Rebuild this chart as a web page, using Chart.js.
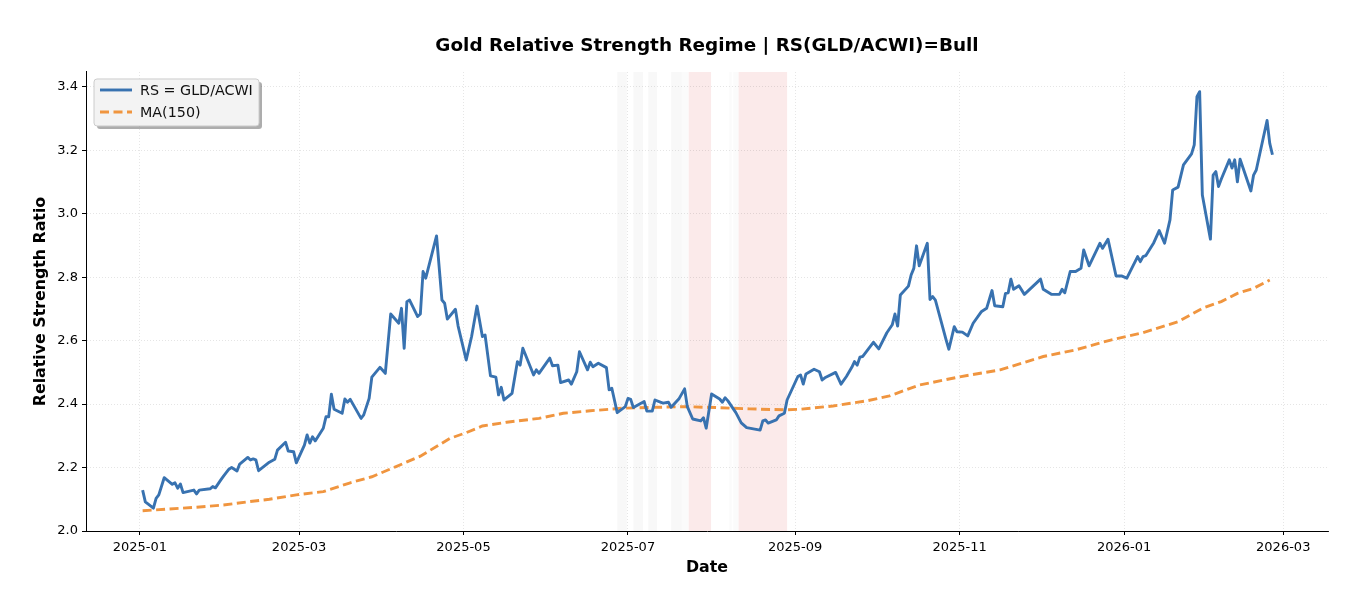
<!DOCTYPE html>
<html>
<head>
<meta charset="utf-8">
<title>Gold Relative Strength Regime</title>
<script src="https://cdn.jsdelivr.net/npm/chart.js@4.4.1/dist/chart.umd.min.js"></script>
<style>
    html, body { margin: 0; padding: 0; background: #ffffff; }
    #wrap { width: 1368px; height: 610px; }
</style>
</head>
<body>
<div id="wrap"><canvas id="rsChart" width="1368" height="610"></canvas></div>
<script>
// All x values are days counted from 2025-01-01
const startDate = '2025-01-01';

// RS = GLD/ACWI, one value per trading day
const rsDays = [
    1, 2, 5, 6, 7, 9, 11, 12, 13, 14,
    15, 16, 20, 21, 22, 26, 27, 28, 30, 31,
    33, 34, 36, 37, 40, 41, 42, 43, 44, 48,
    50, 51, 54, 55, 57, 58, 61, 62, 63, 64,
    65, 68, 69, 70, 71, 72, 75, 76, 77, 78,
    82, 83, 85, 86, 89, 91, 93, 96, 97, 98,
    99, 100, 103, 104, 105, 106, 110, 112, 113, 114,
    117, 118, 121, 123, 125, 127, 128, 130, 132, 133,
    134, 135, 138, 140, 141, 142, 146, 147, 148, 152,
    153, 155, 156, 159, 160, 162, 163, 166, 167, 168,
    170, 173, 174, 175, 177, 180, 181, 182, 183, 187,
    188, 190, 191, 193, 194, 196, 197, 200, 202, 203,
    205, 208, 209, 210, 212, 215, 216, 217, 218, 221,
    223, 225, 230, 231, 232, 233, 236, 237, 239, 240,
    244, 245, 246, 247, 250, 252, 253, 254, 258, 260,
    262, 264, 265, 266, 267, 268, 272, 274, 277, 279,
    280, 281, 282, 285, 286, 287, 288, 289, 292, 293,
    294, 295, 299, 300, 302, 303, 305, 307, 309, 312,
    314, 316, 317, 320, 321, 322, 323, 324, 326, 328,
    334, 335, 338, 341, 342, 343, 345, 347, 349, 350,
    352, 356, 357, 359, 362, 364, 366, 370, 371, 372,
    373, 376, 378, 380, 382, 383, 385, 387, 390, 391,
    392, 393, 394, 397, 398, 399, 400, 401, 404, 405,
    406, 407, 408, 412, 413, 414, 418, 419, 420
];
const rsValues = [
    2.129, 2.092, 2.072, 2.103, 2.114, 2.168, 2.154, 2.147, 2.152, 2.135,
    2.148, 2.121, 2.129, 2.117, 2.129, 2.133, 2.140, 2.136, 2.161, 2.173,
    2.195, 2.200, 2.189, 2.211, 2.232, 2.224, 2.227, 2.224, 2.190, 2.217,
    2.226, 2.255, 2.280, 2.252, 2.250, 2.215, 2.271, 2.303, 2.277, 2.297,
    2.284, 2.324, 2.360, 2.360, 2.431, 2.384, 2.371, 2.416, 2.406, 2.415,
    2.355, 2.366, 2.418, 2.485, 2.516, 2.497, 2.684, 2.655, 2.702, 2.576,
    2.723, 2.728, 2.676, 2.684, 2.818, 2.797, 2.930, 2.728, 2.718, 2.668,
    2.699, 2.646, 2.539, 2.613, 2.709, 2.613, 2.618, 2.489, 2.485, 2.429,
    2.453, 2.413, 2.434, 2.534, 2.523, 2.576, 2.492, 2.508, 2.497, 2.545,
    2.521, 2.523, 2.468, 2.476, 2.463, 2.502, 2.565, 2.508, 2.532, 2.518,
    2.529, 2.515, 2.445, 2.450, 2.373, 2.392, 2.418, 2.415, 2.389, 2.408,
    2.378, 2.378, 2.413, 2.406, 2.403, 2.406, 2.390, 2.418, 2.448, 2.392,
    2.353, 2.347, 2.357, 2.324, 2.432, 2.416, 2.406, 2.420, 2.411, 2.373,
    2.341, 2.326, 2.318, 2.347, 2.350, 2.340, 2.350, 2.363, 2.371, 2.413,
    2.487, 2.492, 2.463, 2.495, 2.510, 2.502, 2.476, 2.483, 2.500, 2.463,
    2.487, 2.516, 2.534, 2.523, 2.548, 2.550, 2.595, 2.574, 2.625, 2.650,
    2.684, 2.646, 2.744, 2.772, 2.807, 2.828, 2.899, 2.836, 2.907, 2.730,
    2.739, 2.728, 2.602, 2.573, 2.644, 2.628, 2.627, 2.615, 2.655, 2.691,
    2.702, 2.758, 2.710, 2.707, 2.749, 2.751, 2.794, 2.762, 2.773, 2.746,
    2.794, 2.762, 2.746, 2.746, 2.762, 2.751, 2.818, 2.818, 2.828, 2.886,
    2.836, 2.907, 2.891, 2.920, 2.804, 2.804, 2.797, 2.865, 2.849, 2.865,
    2.868, 2.909, 2.947, 2.907, 2.981, 3.075, 3.084, 3.154, 3.189, 3.217,
    3.369, 3.385, 3.059, 2.920, 3.122, 3.133, 3.086, 3.109, 3.170, 3.144,
    3.170, 3.101, 3.172, 3.072, 3.122, 3.138, 3.294, 3.222, 3.186
];

// 150-day moving average
const maDays = [
    1, 5, 21, 31, 40, 48, 58, 68, 78, 86,
    95, 104, 115, 121, 127, 136, 148, 157, 167, 179,
    192, 202, 214, 226, 239, 245, 257, 270, 278, 289,
    304, 319, 335, 347, 360, 372, 385, 394, 401, 407,
    413, 419
];
const maValues = [
    2.064, 2.066, 2.075, 2.082, 2.092, 2.100, 2.114, 2.124, 2.152, 2.171,
    2.203, 2.236, 2.292, 2.310, 2.331, 2.343, 2.355, 2.371, 2.379, 2.387,
    2.390, 2.392, 2.389, 2.385, 2.382, 2.384, 2.394, 2.411, 2.426, 2.460,
    2.486, 2.508, 2.550, 2.571, 2.602, 2.625, 2.660, 2.702, 2.723, 2.749,
    2.765, 2.791
];

// Regime shading (non-bull periods)
const bandStarts = [177, 183, 188.5, 197, 201, 203.5, 218.5, 220, 222];
const bandEnds   = [180.6, 186.6, 191.8, 201, 203.5, 211.8, 219.5, 222, 240];
const bandKinds  = ['neutral', 'neutral', 'neutral', 'neutral', 'faint', 'bear', 'faint', 'faint', 'bear'];

// Tick labels on the date axis
const tickDates = ['2025-01-01', '2025-03-01', '2025-05-01', '2025-07-01',
                   '2025-09-01', '2025-11-01', '2026-01-01', '2026-03-01'];
const yTicks = [2.0, 2.2, 2.4, 2.6, 2.8, 3.0, 3.2, 3.4];

const xRange = [-20, 440.6];
const yRange = [2.0, 3.447];

const bandColors = {
    neutral: 'rgba(0, 0, 0, 0.028)',
    faint: 'rgba(0, 0, 0, 0.015)',
    bear: 'rgba(215, 60, 60, 0.11)'
};

document.addEventListener('DOMContentLoaded', function() {
    Chart.defaults.font.family = "'DejaVu Sans', sans-serif";
    Chart.defaults.color = '#000';
    createRsChart();
});

function dayOf(dateStr) {
    const base = Date.parse(startDate + 'T00:00:00Z');
    return Math.round((Date.parse(dateStr + 'T00:00:00Z') - base) / 86400000);
}

function labelForDay(day) {
    const d = new Date(Date.parse(startDate + 'T00:00:00Z') + day * 86400000);
    return d.getUTCFullYear() + '-' + String(d.getUTCMonth() + 1).padStart(2, '0');
}

// shaded regime bands, drawn under the grid
const bandPlugin = {
    id: 'regimeBands',
    beforeDraw(chart) {
        const { ctx, chartArea, scales } = chart;
        ctx.save();
        bandStarts.forEach((start, i) => {
            const x1 = scales.x.getPixelForValue(start);
            const x2 = scales.x.getPixelForValue(bandEnds[i]);
            ctx.fillStyle = bandColors[bandKinds[i]];
            ctx.fillRect(x1, chartArea.top, x2 - x1, chartArea.bottom - chartArea.top);
        });
        ctx.restore();
    }
};

// matplotlib-like legend box with shadow
const legendPlugin = {
    id: 'boxLegend',
    afterDraw(chart) {
        const { ctx, chartArea } = chart;
        const left = chartArea.left + 8;
        const top = chartArea.top + 7;
        const w = 165, h = 47;

        ctx.save();
        ctx.fillStyle = 'rgba(0, 0, 0, 0.32)';
        roundRect(ctx, left + 3, top + 3, w, h, 3);
        ctx.fill();
        ctx.fillStyle = '#f3f3f3';
        ctx.strokeStyle = '#cccccc';
        ctx.lineWidth = 1;
        roundRect(ctx, left, top, w, h, 3);
        ctx.fill();
        ctx.stroke();

        chart.data.datasets.forEach((ds, i) => {
            const y = top + 11 + i * 22;
            ctx.beginPath();
            ctx.strokeStyle = ds.borderColor;
            ctx.lineWidth = ds.borderWidth;
            ctx.setLineDash(ds.borderDash || []);
            ctx.moveTo(left + 6, y);
            ctx.lineTo(left + 38, y);
            ctx.stroke();
            ctx.setLineDash([]);
            ctx.fillStyle = '#111';
            ctx.font = "14.3px 'DejaVu Sans', sans-serif";
            ctx.textBaseline = 'middle';
            ctx.fillText(ds.label, left + 46, y + 1);
        });
        ctx.restore();
    }
};

function roundRect(ctx, x, y, w, h, r) {
    ctx.beginPath();
    ctx.moveTo(x + r, y);
    ctx.lineTo(x + w - r, y);
    ctx.quadraticCurveTo(x + w, y, x + w, y + r);
    ctx.lineTo(x + w, y + h - r);
    ctx.quadraticCurveTo(x + w, y + h, x + w - r, y + h);
    ctx.lineTo(x + r, y + h);
    ctx.quadraticCurveTo(x, y + h, x, y + h - r);
    ctx.lineTo(x, y + r);
    ctx.quadraticCurveTo(x, y, x + r, y);
    ctx.closePath();
}

function createRsChart() {
    const rsPoints = rsDays.map((d, i) => ({ x: d, y: rsValues[i] }));
    const maPoints = maDays.map((d, i) => ({ x: d, y: maValues[i] }));
    const tickDays = tickDates.map(dayOf);

    const gridStyle = {
        color: 'rgba(0, 0, 0, 0.13)',
        lineWidth: 0.8,
        tickLength: 4,
        tickColor: '#000',
        tickWidth: 1
    };
    const borderStyle = { display: true, color: '#000', width: 1, dash: [1, 2] };

    const ctx = document.getElementById('rsChart').getContext('2d');
    window.rsChart = new Chart(ctx, {
        type: 'line',
        data: {
            datasets: [{
                label: 'RS = GLD/ACWI',
                data: rsPoints,
                borderColor: '#3872b0',
                borderWidth: 2.9,
                borderJoinStyle: 'round',
                pointRadius: 0,
                tension: 0
            }, {
                label: 'MA(150)',
                data: maPoints,
                borderColor: '#f0953f',
                borderWidth: 2.9,
                borderDash: [9, 4.5],
                pointRadius: 0,
                tension: 0
            }]
        },
        options: {
            responsive: false,
            animation: false,
            layout: { padding: { left: 0, right: 40, top: 0, bottom: 0 } },
            scales: {
                x: {
                    type: 'linear',
                    min: xRange[0],
                    max: xRange[1],
                    afterBuildTicks: scale => { scale.ticks = tickDays.map(v => ({ value: v })); },
                    afterFit: scale => { scale.height = 79; },
                    ticks: {
                        autoSkip: false,
                        maxRotation: 0,
                        padding: 5,
                        font: { size: 13 },
                        callback: v => labelForDay(v)
                    },
                    grid: gridStyle,
                    border: borderStyle,
                    title: {
                        display: true,
                        text: 'Date',
                        font: { size: 15.8, weight: 'bold' },
                        padding: { top: 0, bottom: 33 }
                    }
                },
                y: {
                    min: yRange[0],
                    max: yRange[1],
                    afterBuildTicks: scale => { scale.ticks = yTicks.map(v => ({ value: v })); },
                    afterFit: scale => { scale.width = 86; },
                    ticks: {
                        padding: 4,
                        font: { size: 13 },
                        callback: v => Number(v).toFixed(1)
                    },
                    grid: gridStyle,
                    border: borderStyle,
                    title: {
                        display: true,
                        text: 'Relative Strength Ratio',
                        font: { size: 15.8, weight: 'bold' },
                        padding: { top: 31, bottom: 0 }
                    }
                }
            },
            plugins: {
                legend: { display: false },
                tooltip: { enabled: false },
                title: {
                    display: true,
                    fullSize: false,
                    text: 'Gold Relative Strength Regime | RS(GLD/ACWI)=Bull',
                    color: '#000',
                    font: { size: 18.4, weight: 'bold' },
                    padding: { top: 35.3, bottom: 14.6 }
                }
            }
        },
        plugins: [bandPlugin, legendPlugin]
    });
}
</script>
</body>
</html>
